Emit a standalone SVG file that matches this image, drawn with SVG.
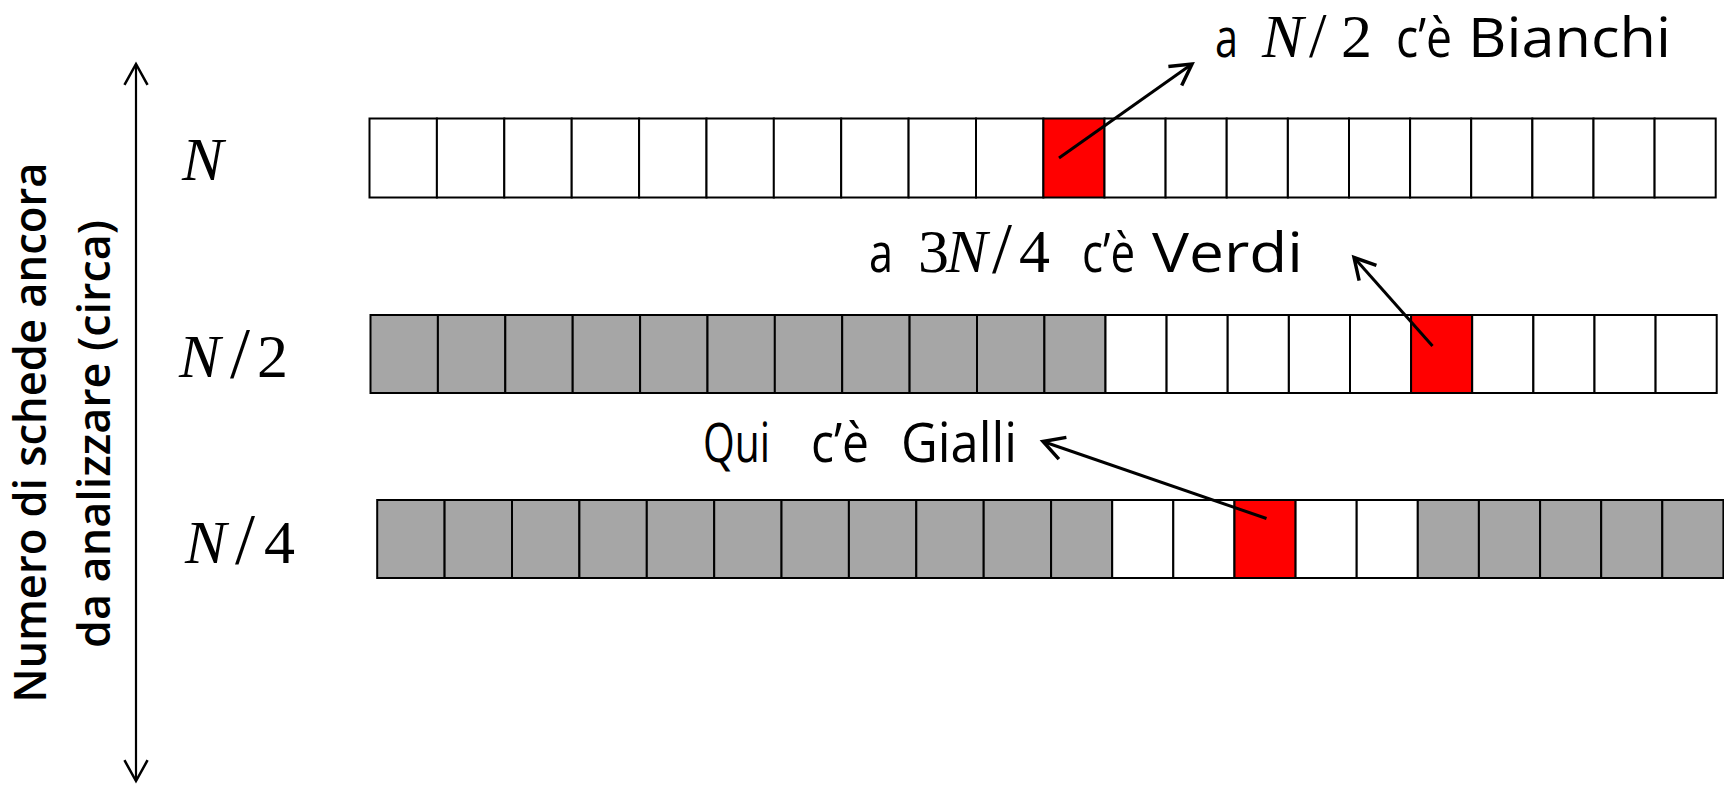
<svg xmlns="http://www.w3.org/2000/svg" width="1724" height="788" viewBox="0 0 1724 788">
<style>
.w{fill:#ffffff;stroke:#000;stroke-width:2}
.g{fill:#a6a6a6;stroke:#000;stroke-width:2}
.r{fill:#ff0000;stroke:#000;stroke-width:2}
.lbl{font-family:"Open Sans","Liberation Sans",sans-serif;font-size:54px;fill:#000}
.m{font-family:"Liberation Serif","DejaVu Serif",serif;font-size:62px;fill:#000}
.mi{font-family:"Liberation Serif","DejaVu Serif",serif;font-style:italic}
.sl{font-size:72px}
.sl2{font-size:63px}
.axis{font-family:"Open Sans","Liberation Sans",sans-serif;font-size:46px;font-weight:600;fill:#000}
.conn{stroke:#000;stroke-width:3;fill:none}
</style>
<defs>
<marker id="ah" markerUnits="userSpaceOnUse" markerWidth="30" markerHeight="30" viewBox="-22 -13 26 26" refX="0" refY="0" orient="auto-start-reverse">
<path d="M-18,-10 L0,0 L-18,10" fill="none" stroke="#000" stroke-width="3"/>
</marker>
<marker id="ah2" markerUnits="userSpaceOnUse" markerWidth="30" markerHeight="30" viewBox="-22 -13 26 26" refX="0" refY="0" orient="auto-start-reverse">
<path d="M-18,-10 L0,0 L-18,10" fill="none" stroke="#000" stroke-width="2.2"/>
</marker>
</defs>
<rect width="1724" height="788" fill="#fff"/>

<g id="axis-label">
<text class="axis" transform="translate(46,432.5) rotate(-90)" text-anchor="middle" textLength="540" lengthAdjust="spacingAndGlyphs">Numero di schede ancora</text>
<text class="axis" transform="translate(110,434) rotate(-90)" text-anchor="middle" textLength="428" lengthAdjust="spacingAndGlyphs">da analizzare (circa)</text>
</g>

<g id="row-labels">
<text class="m" x="182" y="180"><tspan class="mi">N</tspan></text>
<text class="m" y="377"><tspan class="mi" x="179">N</tspan><tspan class="sl" x="230">/</tspan><tspan x="257">2</tspan></text>
<text class="m" y="563"><tspan class="mi" x="185">N</tspan><tspan class="sl" x="235">/</tspan><tspan x="264">4</tspan></text>
</g>

<g id="row1">
<rect class="w" x="369.5" y="118.5" width="67.4" height="79"/>
<rect class="w" x="436.9" y="118.5" width="67.4" height="79"/>
<rect class="w" x="504.3" y="118.5" width="67.4" height="79"/>
<rect class="w" x="571.7" y="118.5" width="67.4" height="79"/>
<rect class="w" x="639.1" y="118.5" width="67.4" height="79"/>
<rect class="w" x="706.5" y="118.5" width="67.4" height="79"/>
<rect class="w" x="773.8" y="118.5" width="67.4" height="79"/>
<rect class="w" x="841.2" y="118.5" width="67.4" height="79"/>
<rect class="w" x="908.6" y="118.5" width="67.4" height="79"/>
<rect class="w" x="976.0" y="118.5" width="67.4" height="79"/>
<rect class="r" x="1043.4" y="118.5" width="61.1" height="79"/>
<rect class="w" x="1104.5" y="118.5" width="61.1" height="79"/>
<rect class="w" x="1165.6" y="118.5" width="61.1" height="79"/>
<rect class="w" x="1226.7" y="118.5" width="61.1" height="79"/>
<rect class="w" x="1287.9" y="118.5" width="61.1" height="79"/>
<rect class="w" x="1349.0" y="118.5" width="61.1" height="79"/>
<rect class="w" x="1410.1" y="118.5" width="61.1" height="79"/>
<rect class="w" x="1471.2" y="118.5" width="61.1" height="79"/>
<rect class="w" x="1532.4" y="118.5" width="61.1" height="79"/>
<rect class="w" x="1593.5" y="118.5" width="61.1" height="79"/>
<rect class="w" x="1654.6" y="118.5" width="61.1" height="79"/>
</g>

<g id="row2">
<rect class="g" x="370.5" y="315" width="67.4" height="78"/>
<rect class="g" x="437.9" y="315" width="67.4" height="78"/>
<rect class="g" x="505.3" y="315" width="67.4" height="78"/>
<rect class="g" x="572.7" y="315" width="67.4" height="78"/>
<rect class="g" x="640.1" y="315" width="67.4" height="78"/>
<rect class="g" x="707.5" y="315" width="67.4" height="78"/>
<rect class="g" x="774.8" y="315" width="67.4" height="78"/>
<rect class="g" x="842.2" y="315" width="67.4" height="78"/>
<rect class="g" x="909.6" y="315" width="67.4" height="78"/>
<rect class="g" x="977.0" y="315" width="67.4" height="78"/>
<rect class="g" x="1044.4" y="315" width="61.1" height="78"/>
<rect class="w" x="1105.5" y="315" width="61.1" height="78"/>
<rect class="w" x="1166.6" y="315" width="61.1" height="78"/>
<rect class="w" x="1227.7" y="315" width="61.1" height="78"/>
<rect class="w" x="1288.9" y="315" width="61.1" height="78"/>
<rect class="w" x="1350.0" y="315" width="61.1" height="78"/>
<rect class="r" x="1411.1" y="315" width="61.1" height="78"/>
<rect class="w" x="1472.2" y="315" width="61.1" height="78"/>
<rect class="w" x="1533.4" y="315" width="61.1" height="78"/>
<rect class="w" x="1594.5" y="315" width="61.1" height="78"/>
<rect class="w" x="1655.6" y="315" width="61.1" height="78"/>
</g>

<g id="row3">
<rect class="g" x="377.2" y="500" width="67.4" height="78"/>
<rect class="g" x="444.6" y="500" width="67.4" height="78"/>
<rect class="g" x="512.0" y="500" width="67.4" height="78"/>
<rect class="g" x="579.4" y="500" width="67.4" height="78"/>
<rect class="g" x="646.8" y="500" width="67.4" height="78"/>
<rect class="g" x="714.2" y="500" width="67.4" height="78"/>
<rect class="g" x="781.5" y="500" width="67.4" height="78"/>
<rect class="g" x="848.9" y="500" width="67.4" height="78"/>
<rect class="g" x="916.3" y="500" width="67.4" height="78"/>
<rect class="g" x="983.7" y="500" width="67.4" height="78"/>
<rect class="g" x="1051.1" y="500" width="61.1" height="78"/>
<rect class="w" x="1112.2" y="500" width="61.1" height="78"/>
<rect class="w" x="1173.3" y="500" width="61.1" height="78"/>
<rect class="r" x="1234.5" y="500" width="61.1" height="78"/>
<rect class="w" x="1295.6" y="500" width="61.1" height="78"/>
<rect class="w" x="1356.7" y="500" width="61.1" height="78"/>
<rect class="g" x="1417.8" y="500" width="61.1" height="78"/>
<rect class="g" x="1478.9" y="500" width="61.1" height="78"/>
<rect class="g" x="1540.1" y="500" width="61.1" height="78"/>
<rect class="g" x="1601.2" y="500" width="61.1" height="78"/>
<rect class="g" x="1662.3" y="500" width="61.1" height="78"/>
</g>

<g id="label-bianchi">
<text class="lbl" y="57"><tspan x="1215" textLength="23" lengthAdjust="spacingAndGlyphs">a</tspan><tspan class="m mi" x="1262">N</tspan><tspan class="m sl2" x="1309">/</tspan><tspan class="m" x="1341">2</tspan><tspan x="1396" textLength="56" lengthAdjust="spacingAndGlyphs">c’è</tspan><tspan x="1468" textLength="203" lengthAdjust="spacingAndGlyphs">Bianchi</tspan></text>
</g>
<g id="label-verdi">
<text class="lbl" y="272"><tspan x="869" textLength="24" lengthAdjust="spacingAndGlyphs">a</tspan><tspan class="m" x="918">3</tspan><tspan class="m mi" x="946">N</tspan><tspan class="m sl" x="992">/</tspan><tspan class="m" x="1019">4</tspan><tspan x="1082" textLength="53" lengthAdjust="spacingAndGlyphs">c’è</tspan><tspan x="1152" textLength="151" lengthAdjust="spacingAndGlyphs">Verdi</tspan></text>
</g>
<g id="label-gialli">
<text class="lbl" y="462"><tspan x="703" textLength="67" lengthAdjust="spacingAndGlyphs">Qui</tspan><tspan x="811" textLength="58" lengthAdjust="spacingAndGlyphs">c’è</tspan><tspan x="901" textLength="116" lengthAdjust="spacingAndGlyphs">Gialli</tspan></text>
</g>

<g id="connectors">
<line x1="136" y1="64" x2="136" y2="781" stroke="#000" stroke-width="2.2" marker-start="url(#ah2)" marker-end="url(#ah2)"/>
<line class="conn" x1="1059" y1="158" x2="1192" y2="64" marker-end="url(#ah)"/>
<line class="conn" x1="1432.5" y1="346" x2="1354" y2="257.5" marker-end="url(#ah)"/>
<line class="conn" x1="1266.5" y1="518.5" x2="1043" y2="441.5" marker-end="url(#ah)"/>
</g>
</svg>
